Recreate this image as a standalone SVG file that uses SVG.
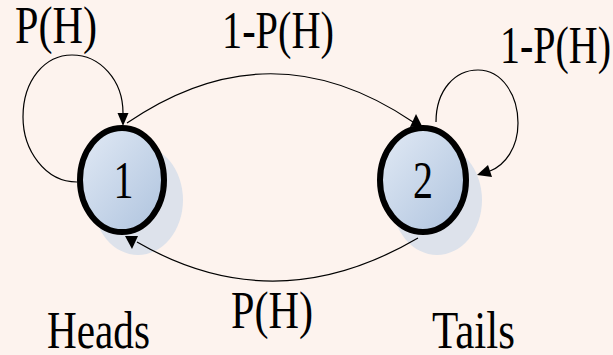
<svg xmlns="http://www.w3.org/2000/svg" width="613" height="355" viewBox="0 0 613 355">
  <defs>
    <linearGradient id="nodeFill" x1="0" y1="0" x2="1" y2="1">
      <stop offset="0" stop-color="#e2eaf5"/>
      <stop offset="1" stop-color="#aec3de"/>
    </linearGradient>
  </defs>
  <style>
    .lbl { font-family: "Liberation Serif", "Times New Roman", serif; font-size: 53px; fill: #000; }
    .shadow { fill: #dde2eb; }
    .node { fill: url(#nodeFill); stroke: #000; stroke-width: 6; }
    .edge { fill: none; stroke: #000; stroke-width: 1.2; }
    .head { fill: #000; stroke: none; }
  </style>
  <rect x="0" y="0" width="613" height="355" fill="#fdf3ee"/>

  <g id="node1">
    <ellipse class="shadow" cx="138" cy="200" rx="45" ry="55"/>
    <ellipse class="node" cx="122" cy="180" rx="42" ry="52"/>
    <text class="lbl" x="123.5" y="198" text-anchor="middle" textLength="20" lengthAdjust="spacingAndGlyphs">1</text>
  </g>

  <g id="node2">
    <ellipse class="shadow" cx="437" cy="200" rx="45" ry="55"/>
    <ellipse class="node" cx="423" cy="180" rx="43" ry="52"/>
    <text class="lbl" x="423" y="198" text-anchor="middle" textLength="20" lengthAdjust="spacingAndGlyphs">2</text>
  </g>

  <g id="connectors">
    <path class="edge" d="M 77,182 C 45,182 23,150 23,117 C 23,80 45,55 72,55 C 100,55 123,80 123,113"/>
    <polygon class="head" points="117.5,113 128.5,113 123,126"/>
    <path class="edge" d="M 436,122 C 436,90 455,70 478,70 C 502,70 518,95 518,123 C 518,148 505,165 490,171"/>
    <polygon class="head" points="488,165 492,177 477,175"/>
    <path class="edge" d="M 127,123 Q 270,25 413,122"/>
    <polygon class="head" points="410,127 422,126 416,114"/>
    <path class="edge" d="M 418,238 Q 275,322 137,242"/>
    <polygon class="head" points="125,236 138,236 132,249"/>
  </g>

  <g id="labels">
    <text class="lbl" x="15" y="43" textLength="82" lengthAdjust="spacingAndGlyphs">P(H)</text>
    <text class="lbl" x="222" y="48" textLength="112" lengthAdjust="spacingAndGlyphs">1-P(H)</text>
    <text class="lbl" x="500" y="63" textLength="111" lengthAdjust="spacingAndGlyphs">1-P(H)</text>
    <text class="lbl" x="231" y="328" textLength="82" lengthAdjust="spacingAndGlyphs">P(H)</text>
    <text class="lbl" x="47" y="348" textLength="103" lengthAdjust="spacingAndGlyphs">Heads</text>
    <text class="lbl" x="432" y="348" textLength="83" lengthAdjust="spacingAndGlyphs">Tails</text>
  </g>
</svg>
